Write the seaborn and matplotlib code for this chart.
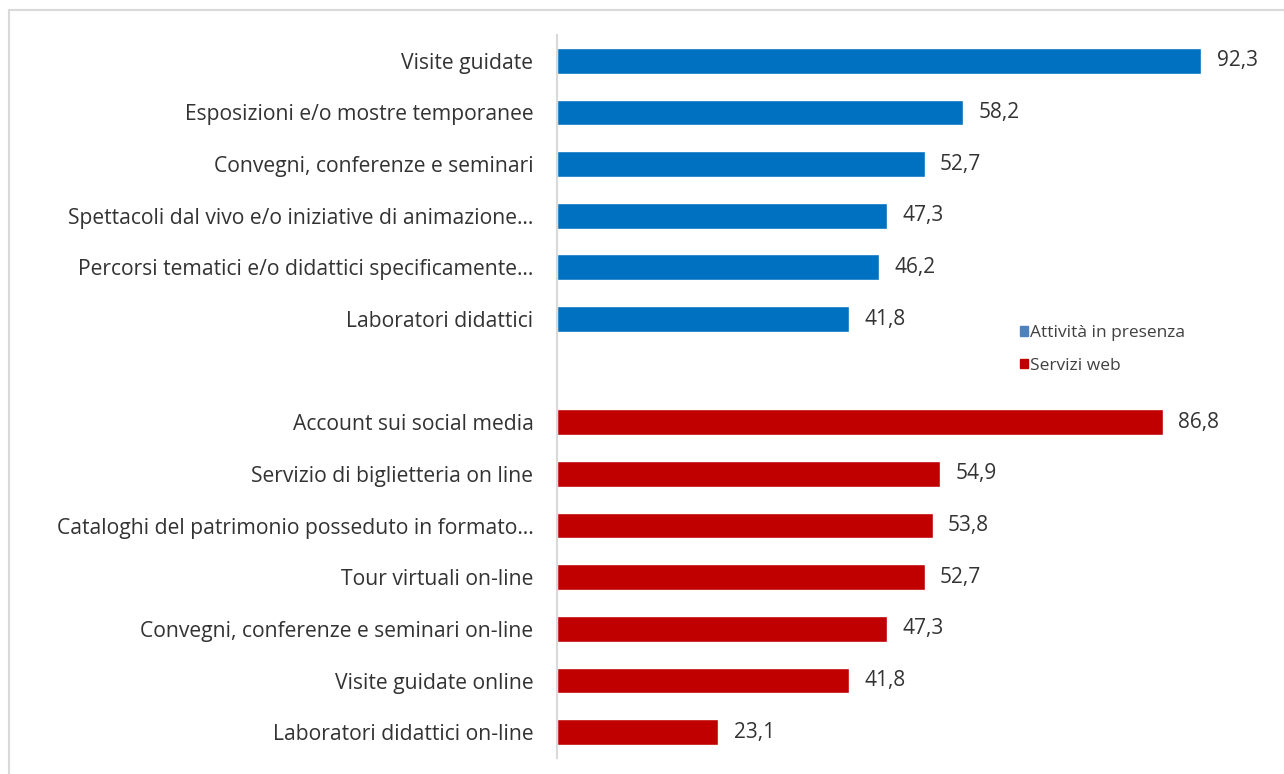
import matplotlib
matplotlib.use("Agg")
import matplotlib.pyplot as plt
import matplotlib.patches as mpatches
import seaborn as sns
import pandas as pd

# data
presenza = ["Visite guidate", "Esposizioni e/o mostre temporanee",
            "Convegni, conferenze e seminari",
            "Spettacoli dal vivo e/o iniziative di animazione…",
            "Percorsi tematici e/o didattici specificamente…",
            "Laboratori didattici"]
presenza_val = [92.3, 58.2, 52.7, 47.3, 46.2, 41.8]
web = ["Account sui social media", "Servizio di biglietteria on line",
       "Cataloghi del patrimonio posseduto in formato…",
       "Tour virtuali on-line", "Convegni, conferenze e seminari on-line",
       "Visite guidate online", "Laboratori didattici on-line"]
web_val = [86.8, 54.9, 53.8, 52.7, 47.3, 41.8, 23.1]
groups = ["Attività in presenza", "Servizi web"]
colors = ["#0070C0", "#C00000"]
legend_colors = ["#4F81BD", "#C00000"]

df = pd.DataFrame({
    "cat": presenza + web,
    "val": presenza_val + web_val,
    "group": [groups[0]] * len(presenza) + [groups[1]] * len(web),
})
order = presenza + [" "] + web

sns.set_style("white")
plt.rcParams["font.family"] = ["Open Sans", "DejaVu Sans"]

fig = plt.figure(figsize=(12.84, 7.74), dpi=100)
ax = fig.add_axes([0.4338, 0.0207, 0.5436, 0.9341])

sns.barplot(data=df, y="cat", x="val", hue="group", order=order,
            palette=colors, dodge=False, width=0.5, saturation=1,
            legend=False, ax=ax)

ax.set_xlim(0, 100)
ax.set_ylim(len(order) - 0.5, -0.5)
ax.set_xlabel("")
ax.set_ylabel("")
ax.set_xticks([])
ax.tick_params(axis="y", length=0, pad=17, labelsize=15.2, labelcolor="#333333")
for s in ["top", "right", "bottom"]:
    ax.spines[s].set_visible(False)
ax.spines["left"].set_color("#D9D9D9")
ax.spines["left"].set_linewidth(1.5)

for c in ax.containers:
    ax.bar_label(c, fmt=lambda v: "" if v != v else f"{v:.1f}".replace(".", ","),
                 padding=11, fontsize=15, color="#333333")

handles = [mpatches.Patch(color=legend_colors[i], label=groups[i]) for i in range(2)]
fig.legend(handles=handles, loc="upper left", bbox_to_anchor=(0.782, 0.6),
           frameon=False, fontsize=12.5, handlelength=0.45, handleheight=0.45,
           handletextpad=0.15, labelspacing=0.95, labelcolor="#404040")

# chart area border (cropped on the right and bottom)
fig.patches.append(mpatches.Rectangle((9 / 1284, -0.1), 1.2, 1 - 10 / 774 + 0.1,
                                      transform=fig.transFigure, fill=False,
                                      edgecolor="#D9D9D9", linewidth=1.5))

fig.savefig("out.png", dpi=100)
